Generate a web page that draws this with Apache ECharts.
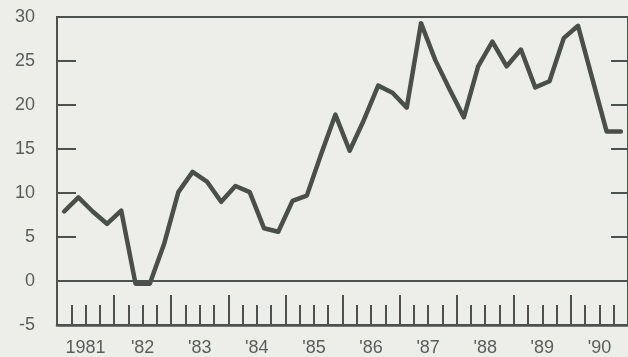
<!DOCTYPE html>
<html>
<head>
<meta charset="utf-8">
<script src="https://cdn.jsdelivr.net/npm/echarts@6/dist/echarts.min.js"></script>
<style>
html,body{margin:0;padding:0;background:#edeee9;}
#c{width:628px;height:357px;}
</style>
</head>
<body>
<div id="c"></div>
<script>
// Category labels
const yearLabels = ['1981', "'82", "'83", "'84", "'85", "'86", "'87", "'88", "'89", "'90"];
const quarterNames = ['Q1', 'Q2', 'Q3', 'Q4'];
// Quarterly values, 1981 Q1 .. 1990 Q4
const values = [
  7.9, 9.5, 7.9, 6.5,
  8.0, -0.3, -0.3, 4.2,
  10.1, 12.4, 11.3, 9.0,
  10.8, 10.1, 6.0, 5.6,
  9.1, 9.7, 14.4, 18.9,
  14.8, 18.3, 22.2, 21.4,
  19.7, 29.3, 25.1, 21.8,
  18.6, 24.4, 27.2, 24.4,
  26.3, 22.0, 22.7, 27.6,
  29.0, 23.0, 17.0, 17.0
];
const yTicks = { min: -5, max: 30, step: 5 };

const quarters = [];
yearLabels.forEach(function (y) { quarterNames.forEach(function (q) { quarters.push(y + ' ' + q); }); });

const ink = '#4e524e';
const textCol = '#5a5e5a';
const font = "'Liberation Sans', Arial, Helvetica, sans-serif";

const chart = echarts.init(document.getElementById('c'), null, { renderer: 'canvas' });
chart.setOption({
  animation: false,
  backgroundColor: '#edeee9',
  grid: { left: 57, top: 17, width: 572, height: 308, show: true, borderColor: ink, borderWidth: 2, backgroundColor: 'transparent' },
  xAxis: [
    {
      type: 'category', data: quarters, position: 'bottom', boundaryGap: true,
      axisLine: { show: true, onZero: false, lineStyle: { color: ink, width: 2.5 } },
      axisTick: { show: true, inside: true, length: 20, interval: 0, lineStyle: { color: ink, width: 2 } },
      axisLabel: { show: false },
      splitLine: { show: false }
    },
    {
      type: 'category', data: yearLabels, position: 'bottom', boundaryGap: true,
      axisLine: { show: false, onZero: false },
      axisTick: { show: true, inside: true, length: 30, interval: 0, lineStyle: { color: ink, width: 2 } },
      axisLabel: { show: true, interval: 0, fontSize: 18, fontFamily: font, color: textCol, margin: 14 },
      splitLine: { show: false }
    }
  ],
  yAxis: [
    {
      type: 'value', min: yTicks.min, max: yTicks.max, interval: yTicks.step, position: 'left',
      axisLine: { show: true, onZero: false, lineStyle: { color: ink, width: 2 } },
      axisTick: { show: true, inside: true, length: 19, lineStyle: { color: ink, width: 2 } },
      axisLabel: { fontSize: 18, fontFamily: font, color: textCol, margin: 22 },
      splitLine: { show: false }
    },
    {
      type: 'value', min: yTicks.min, max: yTicks.max, interval: yTicks.step, position: 'right',
      axisLine: { show: true, onZero: false, lineStyle: { color: ink, width: 2 } },
      axisTick: { show: true, inside: true, length: 17, lineStyle: { color: ink, width: 2 } },
      axisLabel: { show: false },
      splitLine: { show: false }
    }
  ],
  series: [{
    type: 'line', data: values, xAxisIndex: 0, yAxisIndex: 0,
    symbol: 'none', smooth: false,
    lineStyle: { color: '#4a4f4a', width: 4.5, join: 'round', cap: 'round' },
    markLine: {
      silent: true, symbol: 'none', label: { show: false },
      lineStyle: { color: ink, width: 2, type: 'solid' },
      data: [{ yAxis: 0 }]
    }
  }]
});
</script>
</body>
</html>
